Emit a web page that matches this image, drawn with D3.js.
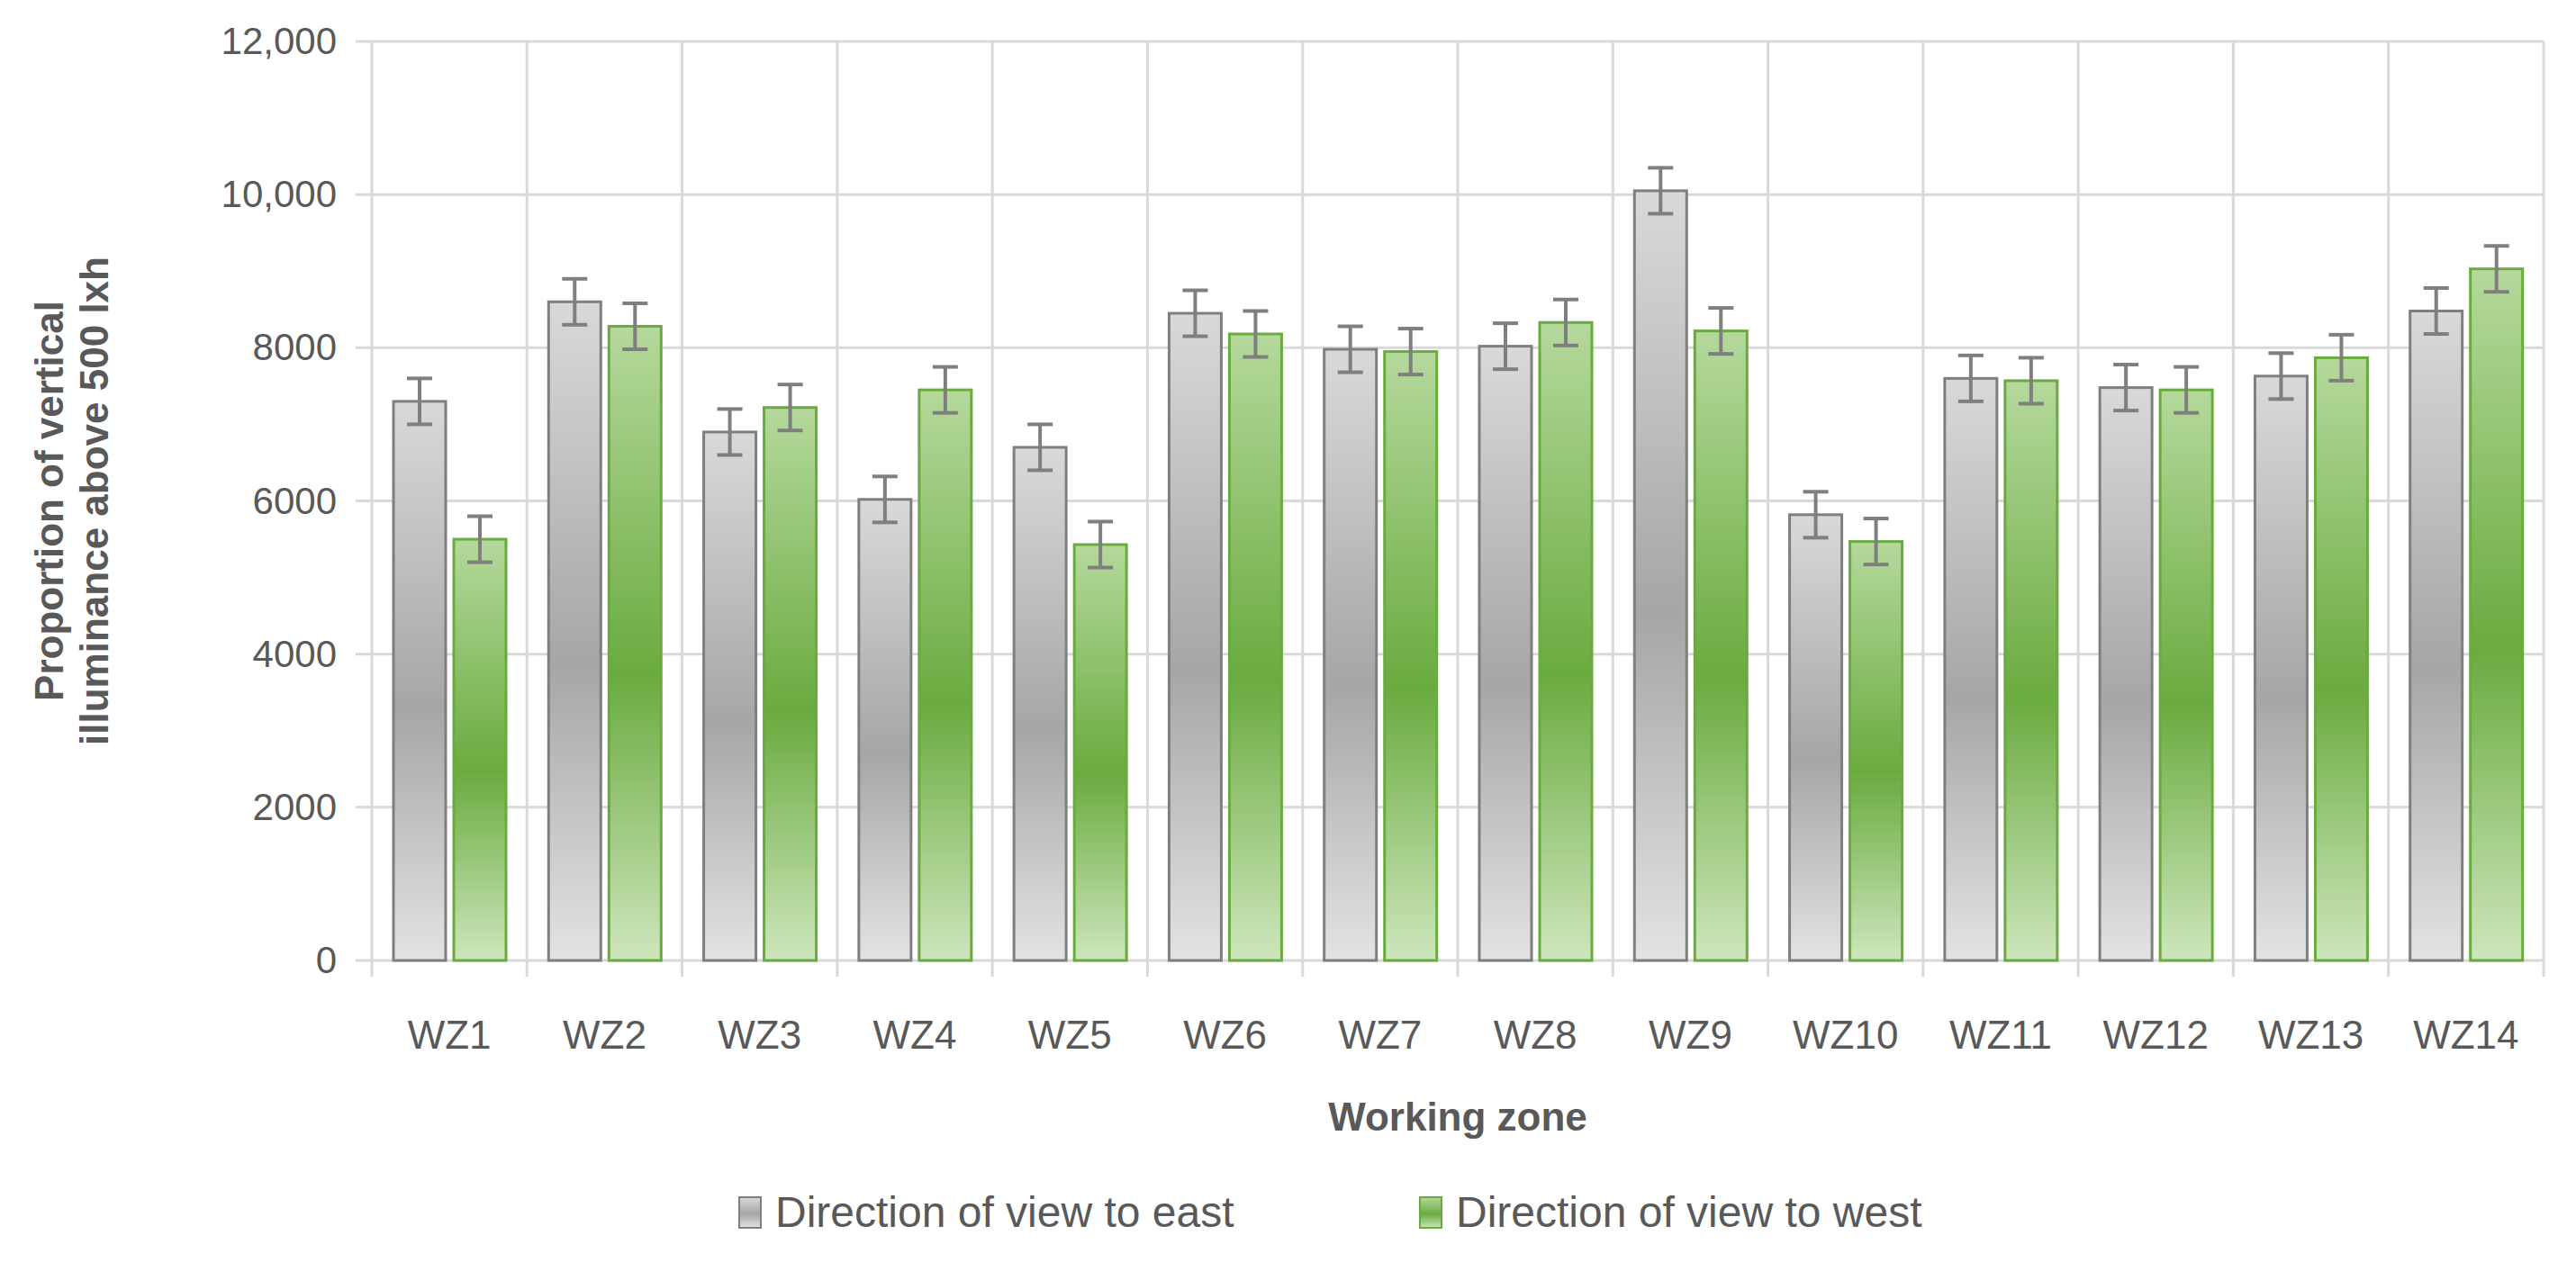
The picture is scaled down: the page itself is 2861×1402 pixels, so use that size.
<!DOCTYPE html>
<html><head><meta charset="utf-8">
<script src="https://cdn.jsdelivr.net/npm/d3@7"></script>
<style>body{margin:0;background:#fff}text{font-family:"Liberation Sans",Arial,sans-serif}</style>
</head><body><svg id="c" width="2861" height="1402"></svg>
<script>
const categories=["WZ1","WZ2","WZ3","WZ4","WZ5","WZ6","WZ7","WZ8","WZ9","WZ10","WZ11","WZ12","WZ13","WZ14"];
const east=[7300,8600,6900,6020,6700,8450,7980,8020,10050,5820,7600,7480,7630,8480];
const west=[5500,8280,7220,7450,5430,8180,7950,8330,8220,5470,7570,7450,7870,9030];
const errEast=[300,300,300,300,300,300,300,300,300,300,300,300,300,300];
const errWest=[300,300,300,300,300,300,300,300,300,300,300,300,300,300];
const yTicks=[0,2000,4000,6000,8000,10000,12000];
const yTickLabels=["0","2000","4000","6000","8000","10,000","12,000"];
const seriesNames=["Direction of view to east","Direction of view to west"];

const svg=d3.select("#c");
const L=413,R=2825,T=46,B=1067;
const x=d3.scaleBand().domain(categories).range([L,R]);
const y=d3.scaleLinear().domain([0,12000]).range([B,T]);
const defs=svg.append("defs");
function grad(id,stops){const g=defs.append("linearGradient").attr("id",id).attr("x1",0).attr("y1",0).attr("x2",0).attr("y2",1);
stops.forEach(s=>g.append("stop").attr("offset",s[0]).attr("stop-color",s[1]));}
grad("gG",[[0,"#d9d9d9"],[0.55,"#a6a6a6"],[1,"#e3e3e3"]]);
grad("gW",[[0,"#b5d99c"],[0.55,"#6aab3f"],[1,"#cde6bc"]]);
defs.append("linearGradient").attr("id","lg1");
// grid
svg.append("g").selectAll("line").data(yTicks).join("line").attr("x1",395).attr("x2",R).attr("y1",d=>y(d)).attr("y2",d=>y(d)).attr("stroke","#d9d9d9").attr("stroke-width",3);
const bounds=categories.map(c=>x(c)).concat([R]);
svg.append("g").selectAll("line").data(bounds).join("line").attr("x1",d=>d).attr("x2",d=>d).attr("y1",T).attr("y2",B+18).attr("stroke","#d9d9d9").attr("stroke-width",3);
// y labels
svg.append("g").selectAll("text").data(yTicks).join("text").attr("x",374).attr("y",d=>y(d)+14).attr("text-anchor","end").attr("font-size",42).attr("fill","#595959").text((d,i)=>yTickLabels[i]);
const bw=58, off=[24,91];
const series=[{v:east,e:errEast,f:"url(#gG)",s:"#7f7f7f"},{v:west,e:errWest,f:"url(#gW)",s:"#6aab3f"}];
series.forEach((s,k)=>{
 const g=svg.append("g");
 g.selectAll("rect").data(categories).join("rect").attr("x",c=>x(c)+off[k]).attr("width",bw).attr("y",(c,i)=>y(s.v[i])).attr("height",(c,i)=>B-y(s.v[i])).attr("fill",s.f).attr("stroke",s.s).attr("stroke-width",3);
 const eb=svg.append("g").attr("stroke","#7f7f7f").attr("stroke-width",4);
 categories.forEach((c,i)=>{const cx=x(c)+off[k]+bw/2,y1=y(s.v[i]+s.e[i]),y2=y(s.v[i]-s.e[i]);
  eb.append("line").attr("x1",cx).attr("x2",cx).attr("y1",y1).attr("y2",y2);
  eb.append("line").attr("x1",cx-14).attr("x2",cx+14).attr("y1",y1).attr("y2",y1);
  eb.append("line").attr("x1",cx-14).attr("x2",cx+14).attr("y1",y2).attr("y2",y2);});
});
// x labels
svg.append("g").selectAll("text").data(categories).join("text").attr("x",c=>x(c)+x.bandwidth()/2).attr("y",1165).attr("text-anchor","middle").attr("font-size",44).attr("fill","#595959").text(c=>c);
svg.append("text").attr("x",(L+R)/2).attr("y",1256).attr("text-anchor","middle").attr("font-size",44).attr("font-weight","bold").attr("fill","#595959").text("Working zone");
const yt=svg.append("text").attr("transform","translate(0,"+((T+B)/2)+") rotate(-90)").attr("text-anchor","middle").attr("font-size",44).attr("font-weight","bold").attr("fill","#595959");
yt.append("tspan").attr("x",0).attr("y",70).text("Proportion of vertical");
yt.append("tspan").attr("x",0).attr("y",120).text("illuminance above 500 lxh");
// legend
const lg=[{x:821,f:"url(#gG)",s:"#7f7f7f"},{x:1577,f:"url(#gW)",s:"#6aab3f"}];
lg.forEach((l,i)=>{svg.append("rect").attr("x",l.x).attr("y",1330).attr("width",24).attr("height",34).attr("fill",l.f).attr("stroke",l.s).attr("stroke-width",2);
svg.append("text").attr("x",l.x+40).attr("y",1363).attr("font-size",48).attr("fill","#595959").text(seriesNames[i]);});
</script></body></html>
